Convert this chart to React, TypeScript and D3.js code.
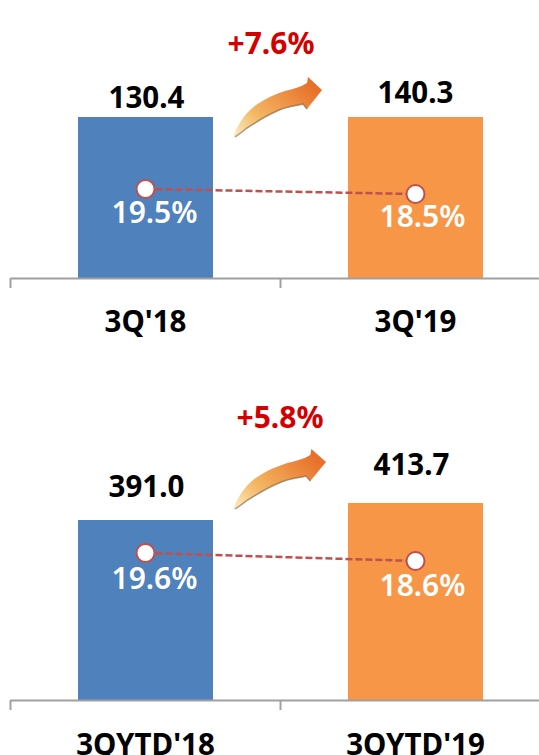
import { useEffect, useRef } from 'react';
import * as d3 from 'd3';

const WIDTH = 539;
const HEIGHT = 755;

// Data
const quarterLabels = ["3Q'18", "3Q'19"];
const quarterValues = [130.4, 140.3];
const quarterRates = [19.5, 18.5];
const quarterGrowth = '+7.6%';

const ytdLabels = ["3QYTD'18", "3QYTD'19"];
const ytdValues = [391.0, 413.7];
const ytdRates = [19.6, 18.6];
const ytdGrowth = '+5.8%';

const barColors = ['#4f81bd', '#f79646'];
const FONT = '"Noto Sans", "Open Sans", sans-serif';

// Arrow outline, relative to its tail
const arrowPath = 'M0,0 C3,-10 9,-20 16,-27 C24,-35 37,-42 52,-47 C60,-49 68,-51 74,-55 L75,-61 L89,-48 L74,-29 L70,-34 C62,-32 52,-31 44,-27 C32,-22 22,-15 14,-10 C9,-6 4,-3 0,0 Z';
const arrowShadow = 'M2,-1 C5,-3 9,-6 14,-10 C22,-15 32,-22 44,-27 C52,-31 62,-32 70,-34 L74,-29';

const App = () => {
  const svgRef = useRef(null);

  useEffect(() => {
    const svg = d3.select(svgRef.current);
    svg.selectAll('*').remove();

    const defs = svg.append('defs');
    const grad = defs.append('linearGradient').attr('id', 'arrowFill')
      .attr('x1', '0').attr('y1', '1').attr('x2', '1').attr('y2', '0.3');
    grad.append('stop').attr('offset', '0').attr('stop-color', '#fdf0c8');
    grad.append('stop').attr('offset', '0.35').attr('stop-color', '#f3b864');
    grad.append('stop').attr('offset', '1').attr('stop-color', '#e8702a');

    const drawPanel = (p) => {
      const x = d3.scaleBand().domain(p.labels).range([10.5, 550.5]).paddingInner(0.5).paddingOuter(0.25);
      const y = d3.scaleLinear().domain(p.valueDomain).range([p.baseline, p.barTop]).clamp(true);
      const r = d3.scaleLinear().domain(p.rateDomain).range(p.rateRange);
      const g = svg.append('g');
      const cx = (i) => x(p.labels[i]) + x.bandwidth() / 2;

      // Bars
      g.selectAll('.bar').data(p.values).enter().append('rect')
        .attr('x', (d, i) => x(p.labels[i]))
        .attr('y', d => y(d))
        .attr('width', x.bandwidth())
        .attr('height', d => p.baseline - y(d))
        .attr('fill', (d, i) => barColors[i]);

      // Axis: ticks on the band edges
      const axis = d3.axisBottom(d3.scaleLinear().domain([0, 2]).range([10, 550]))
        .tickValues([0, 1, 2]).tickFormat(() => '').tickSize(10).tickSizeOuter(0);
      const ax = g.append('g').attr('transform', `translate(0,${p.baseline})`).call(axis);
      ax.selectAll('path,line').attr('stroke', '#a0a0a0').attr('stroke-width', 2);

      // Rate line
      const line = d3.line().x((d, i) => cx(i)).y(d => r(d));
      g.append('path').attr('d', line(p.rates))
        .attr('fill', 'none').attr('stroke', '#c0504d').attr('stroke-width', 2.5).attr('stroke-dasharray', '7 3');
      g.selectAll('.dot').data(p.rates).enter().append('circle')
        .attr('cx', (d, i) => cx(i)).attr('cy', d => r(d)).attr('r', 9)
        .attr('fill', '#fff').attr('stroke', '#c0504d').attr('stroke-width', 2);

      // Rate labels
      g.selectAll('.rate').data(p.rates).enter().append('text')
        .attr('x', (d, i) => cx(i) + p.rateDx[i]).attr('y', (d, i) => r(d) + p.rateDy[i])
        .attr('text-anchor', 'middle').attr('fill', '#fff')
        .attr('font-family', FONT).attr('font-size', 30).attr('font-weight', 600)
        .text(d => `${d.toFixed(1)}%`);

      // Value labels
      g.selectAll('.value').data(p.values).enter().append('text')
        .attr('x', (d, i) => cx(i) + p.valueDx[i]).attr('y', (d, i) => y(d) - p.valueDy[i])
        .attr('text-anchor', 'middle').attr('fill', '#000')
        .attr('font-family', FONT).attr('font-size', 29.5).attr('font-weight', 700)
        .text(d => d.toFixed(1));

      // Category labels
      g.selectAll('.cat').data(p.labels).enter().append('text')
        .attr('x', (d, i) => cx(i)).attr('y', p.baseline + p.labelDy)
        .attr('text-anchor', 'middle').attr('fill', '#000')
        .attr('font-family', FONT).attr('font-size', 29.5).attr('font-weight', 700)
        .text(d => d);

      // Growth label and arrow
      g.append('text').attr('x', p.growthX).attr('y', p.growthY)
        .attr('text-anchor', 'middle').attr('fill', '#d40000')
        .attr('font-family', FONT).attr('font-size', 30).attr('font-weight', 700)
        .text(p.growth);
      const arrow = g.append('g').attr('transform', `translate(${p.arrowX},${p.arrowY}) scale(${p.arrowScale},1)`);
      arrow.append('path').attr('d', arrowPath).attr('fill', 'url(#arrowFill)');
      arrow.append('path').attr('d', arrowShadow).attr('fill', 'none').attr('stroke', '#8a6a4a').attr('stroke-width', 1.5).attr('opacity', 0.7);
    };

    drawPanel({
      labels: quarterLabels, values: quarterValues, rates: quarterRates, growth: quarterGrowth,
      valueDomain: [0, 130], baseline: 278, barTop: 117,
      rateDomain: [18.5, 19.5], rateRange: [194, 189],
      rateDx: [9, 7], rateDy: [34, 33], valueDx: [1, 0], valueDy: [9, 14], labelDy: 54,
      growthX: 271, growthY: 54, arrowX: 233, arrowY: 138, arrowScale: 1,
    });
    drawPanel({
      labels: ytdLabels, values: ytdValues, rates: ytdRates, growth: ytdGrowth,
      valueDomain: [150.6, 413.7], baseline: 700, barTop: 503,
      rateDomain: [18.6, 19.6], rateRange: [561, 553],
      rateDx: [9, 7], rateDy: [36, 35], valueDx: [1, -4], valueDy: [23, 28], labelDy: 55,
      growthX: 280, growthY: 428, arrowX: 233, arrowY: 510, arrowScale: 1.045,
    });
  }, []);

  return (
    <svg ref={svgRef} width={WIDTH} height={HEIGHT}
      style={{ position: 'absolute', left: 0, top: 0, background: '#fff' }} />
  );
};

export default App;
